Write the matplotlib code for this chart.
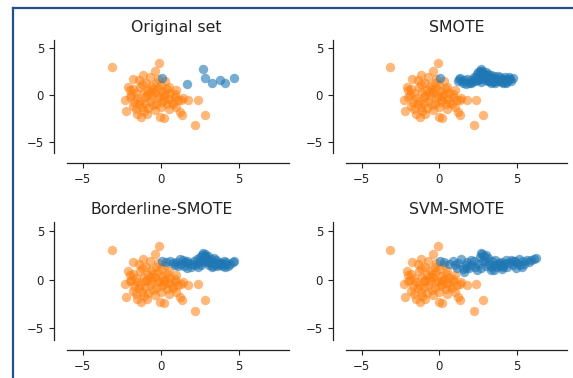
import matplotlib
matplotlib.use("Agg")
import matplotlib.pyplot as plt
from matplotlib.lines import Line2D

# ---- data ----
orange_x = [-3.15, -0.1, -0.4, -1.75, -1.15, -0.7, -1.4, -0.95, -0.2, 0.3,
            -2.1, -1.8, -1.3, -0.6, -0.2, 0.5, -2.3, -2.0, -1.6, -1.1,
            -0.8, -0.4, 0.1, 0.6, 1.0, -1.5, -1.0, -0.6, -0.2, 0.2,
            0.5, 0.9, 1.3, 1.1, 1.75, 2.35, -2.2, -1.8, -1.4, -1.0,
            -0.7, -0.3, 0.1, 0.4, 0.8, -1.6, -1.2, -0.8, -0.4, 0.0,
            0.5, 1.0, 1.2, 1.35, -1.25, -0.9, -0.05, 0.2, 2.8, 2.2,
            -1.9, -1.2, 0.0, -0.5, 0.3, -0.9, 0.7, -1.3, -0.5, 0.2,
            -1.7, 0.9, -0.1, -0.6, 0.4, -1.1, -0.3, 1.4, -2.0, -1.5]
orange_y = [3.0, 3.4, 2.6, 1.75, 2.1, 1.95, 1.6, 1.3, 1.7, 1.5,
            0.9, 0.6, 0.9, 1.0, 0.8, 0.9, -0.5, -0.2, 0.2, 0.3,
            0.5, 0.3, 0.4, 0.2, 0.5, -0.3, -0.2, -0.1, -0.3, -0.1,
            -0.4, -0.2, -0.5, -0.55, -0.55, -0.5, -1.75, -1.2, -0.9, -0.8,
            -0.6, -0.9, -0.7, -1.0, -0.9, -1.5, -1.3, -1.4, -1.6, -1.3,
            -1.5, -1.3, -1.8, -2.1, -2.3, -2.0, -2.3, -2.45, -2.1, -3.2,
            0.0, 1.2, 1.1, 0.6, 0.1, 0.0, -0.7, -0.6, -1.1, -0.5,
            -0.7, 0.1, -0.1, 0.3, 0.6, -1.7, 1.3, -0.3, 0.5, -2.0]

blue_x = [0.05, 1.7, 2.7, 2.8, 3.3, 3.8, 4.1, 4.7]
blue_y = [1.85, 1.15, 2.75, 1.85, 1.25, 1.6, 1.3, 1.85]

smote_x = [1.9, 2.1, 2.3, 2.5, 2.6, 2.0, 2.4, 2.72, 2.74, 2.76,
           2.78, 2.9, 3.0, 3.1, 3.2, 2.95, 3.1, 3.45, 3.6, 3.7,
           3.9, 4.0, 4.25, 4.4, 4.55, 4.1, 4.4, 1.25, 1.45, 1.35,
           3.0, 3.3, 3.55, 3.1, 3.4, 2.4, 2.2, 2.0, 2.6, 2.5,
           3.1, 3.5, 3.9, 4.2, 4.5, 4.3, 3.6, 2.3, 1.6, 1.5,
           2.55, 3.25, 1.8, 2.85, 3.75, 4.6, 1.2, 2.65, 3.35, 4.0]
smote_y = [1.28, 1.4, 1.53, 1.66, 1.72, 1.34, 1.6, 2.55, 2.35, 2.2,
           2.0, 2.25, 2.0, 1.75, 1.5, 1.67, 1.5, 1.35, 1.46, 1.53,
           1.5, 1.4, 1.44, 1.58, 1.71, 1.68, 1.77, 1.7, 1.5, 1.8,
           2.45, 2.1, 1.85, 1.78, 1.7, 2.3, 1.95, 1.65, 2.6, 2.45,
           2.3, 2.0, 1.9, 1.9, 1.95, 1.25, 1.3, 1.8, 1.6, 1.3,
           1.95, 1.95, 1.75, 2.15, 2.0, 1.5, 1.55, 1.45, 1.55, 1.7]

border_x = [0.35, 0.6, 0.9, 1.0, 1.2, 1.3, 1.5, 1.55, 1.75, 1.9,
            2.0, 2.1, 2.2, 2.3, 2.4, 2.5, 2.6, 2.65, 2.75, 2.85,
            2.9, 3.0, 3.05, 3.1, 3.2, 3.3, 3.35, 3.45, 3.5, 3.6,
            3.7, 3.8, 3.9, 4.0, 4.1, 4.2, 4.3, 4.45, 4.6, 1.1,
            0.75, 2.7, 3.15, 2.95, 3.6, 2.35, 1.7, 2.55, 3.4, 2.8,
            4.05, 1.4]
border_y = [1.8, 1.95, 1.5, 1.75, 2.1, 1.6, 1.4, 1.8, 1.65, 1.3,
            1.55, 1.9, 1.45, 2.1, 1.7, 2.35, 1.5, 2.55, 2.0, 2.6,
            2.3, 1.75, 2.45, 1.45, 2.15, 1.9, 1.35, 1.6, 2.05, 1.35,
            1.8, 1.45, 1.65, 1.35, 1.55, 1.75, 1.4, 1.6, 1.75, 1.35,
            1.7, 1.75, 1.65, 1.95, 1.55, 1.25, 1.95, 2.05, 2.25, 2.4,
            1.85, 2.0]

svm_x = [0.3, 0.6, 0.9, 1.1, 1.2, 1.4, 1.5, 1.6, 1.7, 1.9,
         2.05, 2.2, 2.3, 2.5, 2.6, 2.7, 2.75, 2.85, 2.9, 3.0,
         3.1, 3.2, 3.3, 3.35, 3.5, 3.5, 3.6, 3.7, 3.8, 3.95,
         4.0, 4.1, 4.25, 4.35, 4.5, 4.6, 4.75, 4.85, 5.0, 5.1,
         5.2, 5.35, 5.45, 5.6, 5.75, 5.9, 6.1, 6.2, 2.4, 3.0,
         4.2, 1.0, 2.0, 3.9, 5.3, 4.9, 1.8]
svm_y = [1.8, 1.6, 1.9, 1.2, 1.7, 2.15, 1.05, 0.8, 1.5, 1.2,
         1.45, 1.9, 1.3, 1.6, 2.3, 1.2, 2.6, 2.45, 1.9, 1.35,
         2.2, 1.6, 1.0, 1.9, 0.95, 1.45, 2.05, 1.25, 1.7, 1.8,
         1.1, 1.5, 2.0, 1.3, 1.7, 2.0, 1.45, 1.95, 1.7, 2.1,
         1.5, 1.9, 1.6, 2.05, 1.75, 2.0, 2.15, 2.2, 1.0, 2.5,
         1.65, 1.45, 2.0, 1.35, 1.3, 1.2, 1.8]

titles = ["Original set", "SMOTE", "Borderline-SMOTE", "SVM-SMOTE"]
extra_x = [[], smote_x, border_x, svm_x]
extra_y = [[], smote_y, border_y, svm_y]
xticks = [-5, 0, 5]
yticks = [-5, 0, 5]

ORANGE = "#ff7f0e"
BLUE = "#1f77b4"

W, H = 573, 378
fig = plt.figure(figsize=(W / 100, H / 100), dpi=100)
fig.patch.set_facecolor("white")

# axes boxes in pixel coords: (left, top, right, bottom)
boxes = [(67, 40, 289, 153), (346, 40, 567, 153),
         (67, 222, 289, 340), (346, 222, 567, 340)]
title_x = [0.49, 0.5, 0.425, 0.5]

for i, (l, t, r, b) in enumerate(boxes):
    ax = fig.add_axes([l / W, 1 - b / H, (r - l) / W, (b - t) / H])
    ax.scatter(orange_x, orange_y, s=46, color=ORANGE, alpha=0.55, linewidths=0)
    bx = blue_x + extra_x[i]
    by = blue_y + extra_y[i]
    ax.scatter(bx, by, s=46, color=BLUE, alpha=0.6, linewidths=0)
    ax.set_xlim(-6.0, 8.2)
    ax.set_ylim(-6.2, 5.9)
    ax.set_xticks(xticks)
    ax.set_yticks(yticks)
    ax.tick_params(labelsize=8.5, length=3.5, width=0.8, colors="#222222")
    ax.spines["top"].set_visible(False)
    ax.spines["right"].set_visible(False)
    ax.spines["left"].set_position(("outward", 9.5))
    ax.spines["bottom"].set_position(("outward", 7.5))
    for s in ("left", "bottom"):
        ax.spines[s].set_color("#222222")
        ax.spines[s].set_linewidth(0.9)
    ax.set_title(titles[i], fontsize=11.3, x=title_x[i], pad=6, color="#222222")

# frame lines (top and left)
c = "#24508c"
fig.add_artist(Line2D([13 / W, 1.0], [1 - 8 / H, 1 - 8 / H], color=c, lw=1.6,
                      transform=fig.transFigure))
fig.add_artist(Line2D([13 / W, 13 / W], [1 - 8 / H, 0.0], color=c, lw=1.6,
                      transform=fig.transFigure))

fig.savefig("out.png", dpi=100)
